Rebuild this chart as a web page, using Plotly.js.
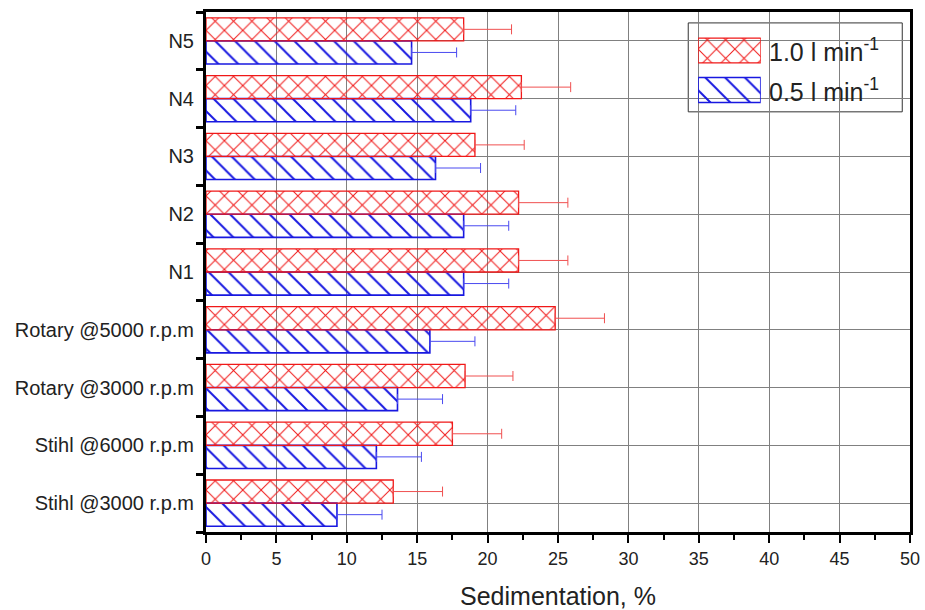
<!DOCTYPE html>
<html>
<head>
<meta charset="utf-8">
<script src="https://cdn.plot.ly/plotly-3.0.1.min.js"></script>
<style>html,body{margin:0;padding:0;background:#fff;}#chart{width:925px;height:610px;}</style>
</head>
<body>
<div id="chart"></div>
<script>
// categories, bottom to top
const categories = ["Stihl @3000 r.p.m", "Stihl @6000 r.p.m", "Rotary @3000 r.p.m", "Rotary @5000 r.p.m", "N1", "N2", "N3", "N4", "N5"];
// 1.0 l/min series
const flow10 = [13.3, 17.5, 18.4, 24.8, 22.2, 22.2, 19.1, 22.4, 18.3];
const flow10Err = [3.5, 3.5, 3.4, 3.5, 3.5, 3.5, 3.5, 3.5, 3.4];
// 0.5 l/min series
const flow05 = [9.3, 12.1, 13.6, 15.9, 18.3, 18.3, 16.3, 18.8, 14.6];
const flow05Err = [3.2, 3.2, 3.2, 3.2, 3.2, 3.2, 3.2, 3.2, 3.2];
const seriesNames = ["1.0 l min<sup>-1</sup>", "0.5 l min<sup>-1</sup>"];
const xTicks = [0, 5, 10, 15, 20, 25, 30, 35, 40, 45, 50];

const pos = categories.map((c, i) => i);
const zeros = categories.map(() => 0);
const font = "Arial, 'Liberation Sans', sans-serif";
const RED = "#f01818", BLUE = "#1818e0";

const redMarker = {
  color: "rgba(255,255,255,0)",
  line: {color: RED, width: 1.3},
  pattern: {shape: "x", fgcolor: RED, fgopacity: 1, bgcolor: "rgba(255,255,255,0)", size: 13, solidity: 0.15, fillmode: "overlay"}
};
const blueMarker = {
  color: "rgba(255,255,255,0)",
  line: {color: BLUE, width: 1.6},
  pattern: {shape: "\\", fgcolor: BLUE, fgopacity: 1, bgcolor: "rgba(255,255,255,0)", size: 14, solidity: 0.14, fillmode: "overlay"}
};

const traceBlue = {
  type: "bar", orientation: "h", name: seriesNames[1], showlegend: false,
  x: flow05, y: pos, marker: blueMarker,
  error_x: {type: "data", array: flow05Err, arrayminus: zeros, symmetric: false, color: "#4a4af0", thickness: 1, width: 5}
};
const traceRed = {
  type: "bar", orientation: "h", name: seriesNames[0], showlegend: false,
  x: flow10, y: pos, marker: redMarker,
  error_x: {type: "data", array: flow10Err, arrayminus: zeros, symmetric: false, color: "#f05050", thickness: 1, width: 5}
};

// legend swatches drawn in a small inset subplot
const legendRows = [seriesNames[1], seriesNames[0]];
const swatchBlue = {type: "bar", orientation: "h", x: [1], y: [legendRows[0]], xaxis: "x2", yaxis: "y2", width: 0.63,
  marker: blueMarker, showlegend: false, hoverinfo: "skip"};
const swatchRed = {type: "bar", orientation: "h", x: [1], y: [legendRows[1]], xaxis: "x2", yaxis: "y2", width: 0.63,
  marker: redMarker, showlegend: false, hoverinfo: "skip"};

const layout = {
  width: 925, height: 610,
  margin: {l: 206, r: 15, t: 12, b: 78},
  paper_bgcolor: "#fff", plot_bgcolor: "rgba(0,0,0,0)",
  font: {family: font, color: "#222"},
  barmode: "group", bargap: 0.2, bargroupgap: 0,
  showlegend: false,
  xaxis: {
    range: [0, 50], tickvals: xTicks, ticktext: xTicks.map(String),
    ticks: "outside", ticklen: 8, tickwidth: 2, tickcolor: "#000",
    minor: {dtick: 2.5, tick0: 0, ticks: "outside", ticklen: 5, tickwidth: 2, tickcolor: "#000", showgrid: false},
    showline: true, linecolor: "#000", linewidth: 3, mirror: true,
    showgrid: true, gridcolor: "#808080", gridwidth: 1, zeroline: false,
    tickfont: {size: 18, family: font, color: "#222"},
    title: {text: "Sedimentation, %", font: {size: 25, family: font, color: "#222"}, standoff: 20}
  },
  yaxis: {
    range: [-0.5, 8.5], tickvals: pos, ticktext: categories,
    ticks: "", showgrid: true, gridcolor: "#808080", gridwidth: 1, zeroline: false,
    minor: {dtick: 1, tick0: 0.5, ticks: "outside", ticklen: 7, tickwidth: 3, tickcolor: "#000", showgrid: false},
    showline: true, linecolor: "#000", linewidth: 3, mirror: true,
    tickfont: {size: 20, family: font, color: "#222"},
    ticklabelstandoff: 5
  },
  xaxis2: {domain: [0.699, 0.788], anchor: "y2", range: [0, 1], visible: false, fixedrange: true},
  yaxis2: {domain: [0.812, 0.964], anchor: "x2", visible: false, fixedrange: true, categoryorder: "array", categoryarray: legendRows},
  shapes: [{
    type: "rect", xref: "paper", yref: "paper", layer: "between",
    x0: 0.685, x1: 0.989, y0: 0.808, y1: 0.979,
    fillcolor: "#fff", line: {color: "#333", width: 1}
  }],
  annotations: [
    {xref: "paper", yref: "paper", x: 0.797, y: 0.927, xanchor: "left", yanchor: "middle", showarrow: false,
     text: seriesNames[0], font: {size: 25, family: font, color: "#222"}},
    {xref: "paper", yref: "paper", x: 0.797, y: 0.850, xanchor: "left", yanchor: "middle", showarrow: false,
     text: seriesNames[1], font: {size: 25, family: font, color: "#222"}}
  ]
};

Plotly.newPlot("chart", [traceBlue, traceRed, swatchBlue, swatchRed], layout, {displayModeBar: false, staticPlot: true});
</script>
</body>
</html>
